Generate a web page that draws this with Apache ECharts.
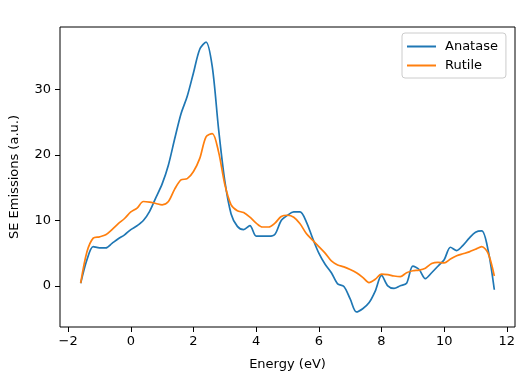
<!DOCTYPE html>
<html>
	<head>
		<meta charset="utf-8">
		<title>SE Emissions</title>
		<script src="https://cdn.jsdelivr.net/npm/echarts@6/dist/echarts.min.js"></script>
	</head>
	<body style="margin: 0;">
		<div id="main" style="width: 522px; height: 376px;"></div>
		<script>
			// energy grid (eV), 0.2 step
			var energy = [];
			for (let i = 0; i <= 66; i++) { energy.push(+(-1.6 + i * 0.2).toFixed(1)); }

			var anatase = [
				0.4, 4.0, 6.0, 5.8, 5.8, 6.5, 7.2, 7.8, 8.6, 9.2,
				10.0, 11.4, 13.5, 15.6, 18.5, 22.5, 26.3, 29.0, 32.6, 36.2,
				37.3, 33.5, 24.0, 16.0, 11.0, 9.1, 8.6, 9.2, 7.6, 7.6,
				7.6, 7.9, 10.0, 10.8, 11.3, 11.3, 9.8, 7.3, 5.0, 3.3,
				2.0, 0.3, -0.1, -2.0, -4.0, -3.5, -2.6, -0.8, 1.6, 0.0,
				-0.4, 0.0, 0.4, 3.0, 2.5, 1.1, 2.0, 3.0, 4.0, 5.9,
				5.4, 6.2, 7.3, 8.2, 8.4, 5.5, -0.6
			];
			var rutile = [
				0.4, 5.2, 7.3, 7.5, 7.8, 8.6, 9.5, 10.3, 11.3, 11.9,
				12.9, 12.8, 12.6, 12.4, 12.9, 14.8, 16.2, 16.4, 17.5, 19.5,
				22.8, 23.3, 20.5, 15.5, 12.4, 11.5, 11.2, 10.5, 9.6, 9.0,
				9.0, 9.6, 10.6, 10.8, 10.5, 9.5, 8.0, 7.0, 6.0, 5.0,
				3.8, 3.2, 2.9, 2.5, 2.0, 1.3, 0.5, 1.0, 1.8, 1.7,
				1.5, 1.4, 2.0, 2.3, 2.4, 2.7, 3.4, 3.6, 3.5, 4.1,
				4.6, 4.9, 5.2, 5.6, 6.0, 5.0, 1.5
			];
			var xTicks = [-2, 0, 2, 4, 6, 8, 10, 12];
			var yTicks = [0, 10, 20, 30];

			var pairs = function (ys) {
				return ys.map((v, i) => [energy[i], v]);
			};

			var font = 'DejaVu Sans';
			var mychart = echarts.init(document.getElementById('main'));
			var option = {
				backgroundColor: '#fff',
				animation: false,
				textStyle: { fontFamily: font },
				grid: {
					left: 53, top: 27, width: 462, height: 306,
					show: true, borderColor: '#000', borderWidth: 1
				},
				legend: {
					orient: 'vertical',
					left: 402, top: 33,
					padding: [7, 8, 6, 5],
					itemWidth: 29, itemHeight: 2, itemGap: 6,
					icon: 'rect',
					borderColor: '#ccc', borderWidth: 1, borderRadius: 3,
					backgroundColor: 'rgba(255,255,255,0.8)',
					textStyle: { fontSize: 13, color: '#000', fontFamily: font, padding: [0, 0, 0, 4] },
					data: ['Anatase', 'Rutile']
				},
				xAxis: {
					type: 'value',
					min: -2.26, max: 12.26,
					name: 'Energy (eV)',
					nameLocation: 'middle',
					nameGap: 31,
					nameTextStyle: { fontSize: 13, color: '#000', fontFamily: font },
					axisLine: { show: false, onZero: false },
					splitLine: { show: false },
					axisTick: { show: true, length: 5, lineStyle: { color: '#000' }, customValues: xTicks },
					axisLabel: { fontSize: 13, color: '#000', margin: 8, fontFamily: font, customValues: xTicks,
						formatter: v => v < 0 ? '\u2212' + Math.abs(v) : String(v) }
				},
				yAxis: {
					type: 'value',
					min: -6.3, max: 39.6,
					name: 'SE Emissions (a.u.)',
					nameLocation: 'middle',
					nameGap: 39,
					nameTextStyle: { fontSize: 13, color: '#000', fontFamily: font },
					axisLine: { show: false, onZero: false },
					splitLine: { show: false },
					axisTick: { show: true, length: 5, lineStyle: { color: '#000' }, customValues: yTicks },
					axisLabel: { fontSize: 13, color: '#000', margin: 9, fontFamily: font, customValues: yTicks }
				},
				series: [
					{
						name: 'Anatase', type: 'line', symbol: 'none', smooth: 0.3,
						color: '#1f77b4', lineStyle: { width: 1.7 },
						data: pairs(anatase)
					},
					{
						name: 'Rutile', type: 'line', symbol: 'none', smooth: 0.3,
						color: '#ff7f0e', lineStyle: { width: 1.7 },
						data: pairs(rutile)
					}
				]
			};
			mychart.setOption(option);
		</script>
	</body>
</html>
